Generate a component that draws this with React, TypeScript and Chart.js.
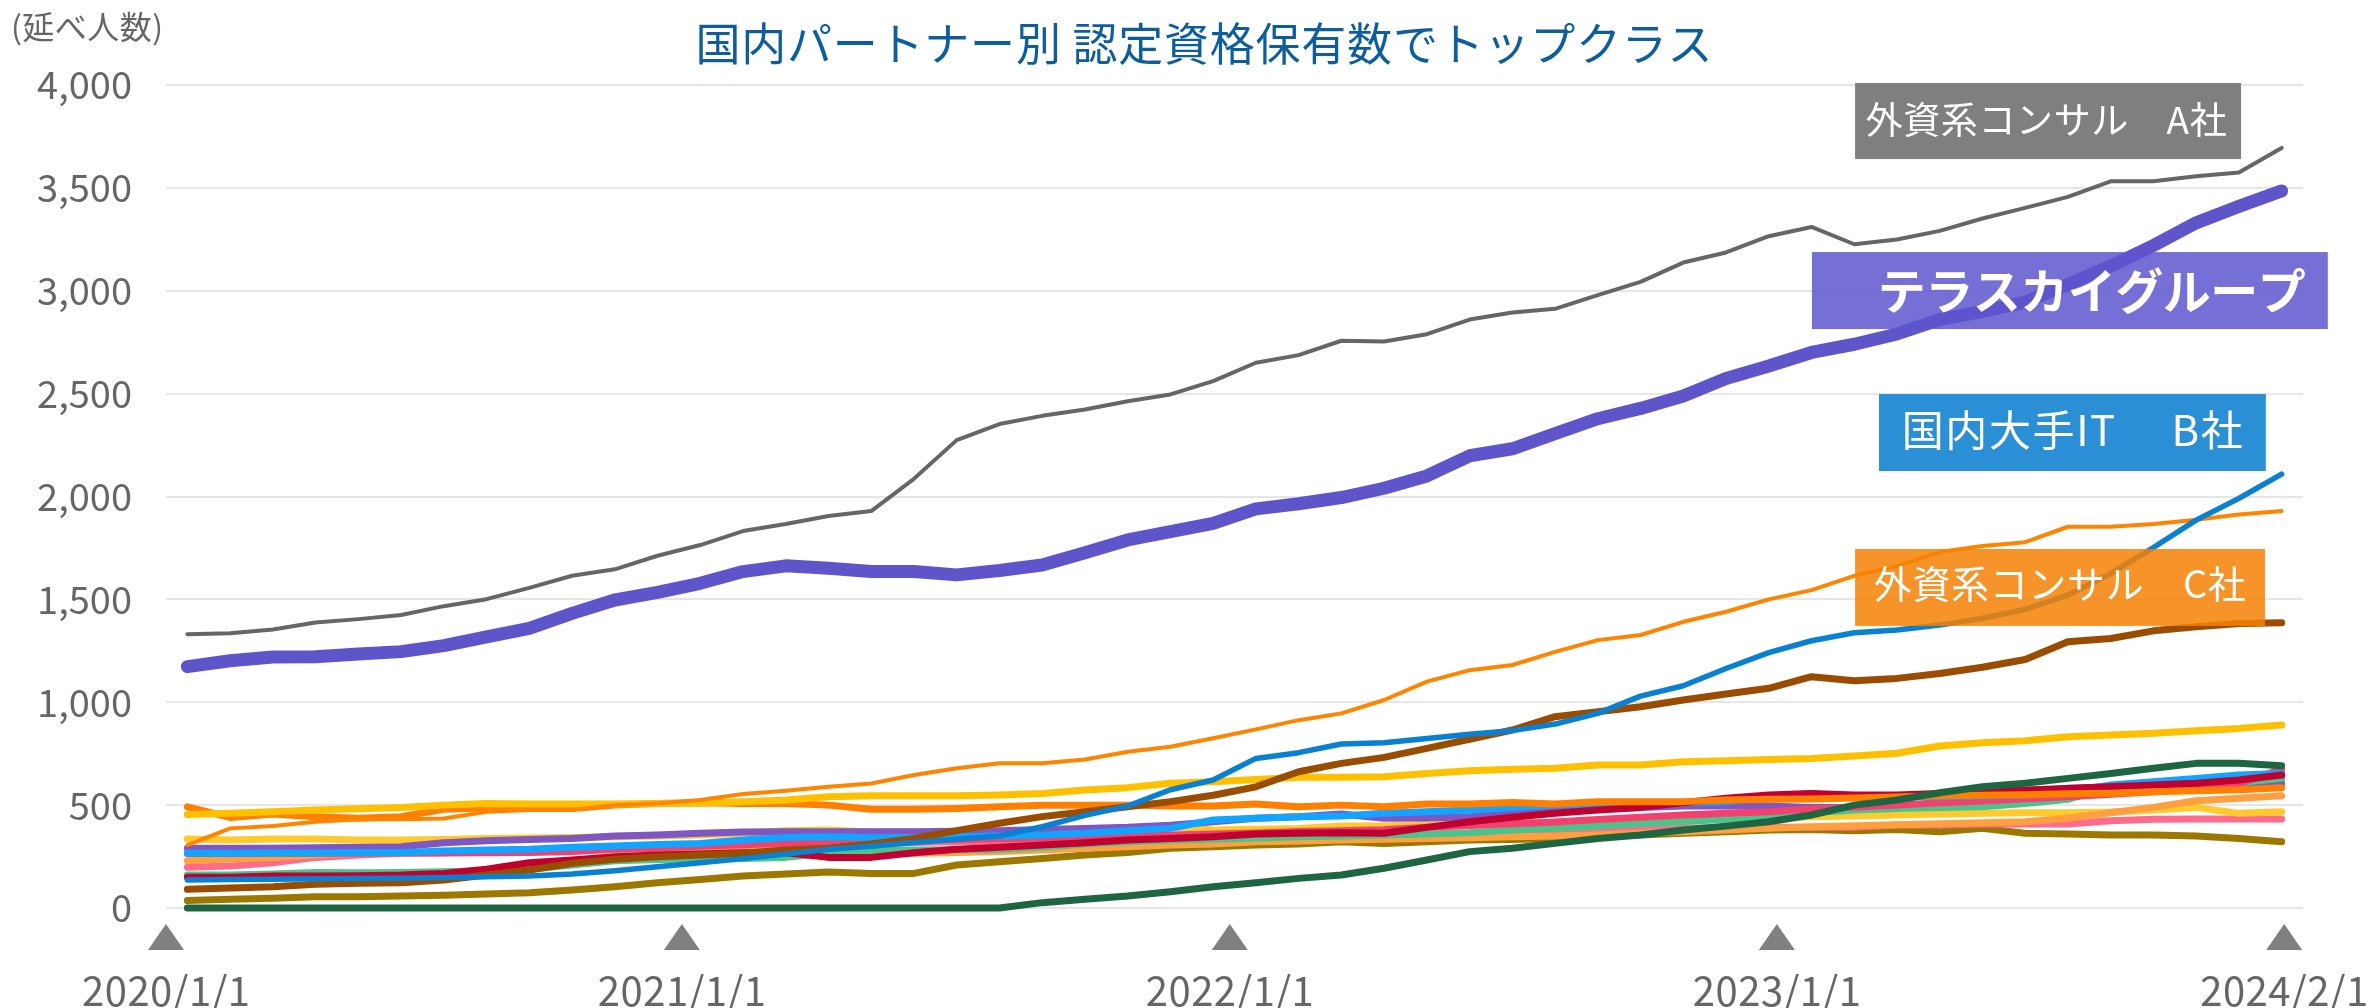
import { useEffect, useRef } from 'react';
import { Chart, registerables } from 'chart.js';

Chart.register(...registerables);

const W = 2374;
const H = 1008;
const FONT = "'Noto Sans CJK JP', 'Noto Sans', sans-serif";

// Monthly points, 2020/1 .. 2024/2 (50 months)
const MONTHS = Array.from({ length: 50 }, (_, i) => `${2020 + Math.floor(i / 12)}/${(i % 12) + 1}`);

const TERRASKY = [
  1173, 1202, 1220, 1221, 1234, 1246, 1275, 1318, 1359, 1432, 1497, 1534, 1578,
  1635, 1663, 1651, 1635, 1635, 1619, 1640, 1667, 1727, 1789, 1829, 1869, 1940,
  1965, 1995, 2040, 2100, 2198, 2232, 2306, 2378, 2428, 2488, 2574, 2634,
  2700, 2740, 2790, 2860, 2900, 2945, 3030, 3120, 3220, 3330, 3410, 3485,
];
const CONSUL_A = [
  1331, 1335, 1354, 1388, 1404, 1424, 1467, 1501, 1556, 1615, 1646, 1712, 1764,
  1832, 1866, 1905, 1929, 2086, 2274, 2352, 2392, 2423, 2463, 2496, 2561, 2650,
  2687, 2757, 2753, 2789, 2860, 2894, 2912, 2979, 3043, 3137, 3186, 3265,
  3310, 3226, 3249, 3291, 3351, 3403, 3456, 3532, 3532, 3557, 3575, 3694,
];
const DOMESTIC_IT_B = [
  136, 138, 140, 142, 143, 144, 148, 152, 155, 165, 181, 201, 220,
  240, 262, 285, 300, 318, 334, 350, 395, 450, 495, 575, 622, 727,
  755, 797, 803, 824, 845, 862, 894, 946, 1030, 1080, 1164, 1241,
  1299, 1338, 1351, 1375, 1408, 1451, 1521, 1626, 1752, 1885, 1991, 2109,
];
const CONSUL_C = [
  306, 387, 398, 419, 431, 431, 435, 468, 476, 478, 500, 508, 525,
  554, 570, 589, 605, 646, 679, 703, 703, 722, 759, 784, 825, 868,
  913, 946, 1011, 1100, 1156, 1181, 1245, 1302, 1327, 1391, 1440, 1500,
  1545, 1614, 1663, 1730, 1759, 1778, 1853, 1853, 1866, 1887, 1913, 1929,
];
const BROWN = [
  91, 97, 103, 115, 120, 123, 136, 160, 185, 217, 237, 249, 258,
  266, 282, 290, 311, 338, 376, 412, 444, 468, 492, 517, 548, 589,
  662, 703, 732, 776, 820, 865, 930, 954, 978, 1011, 1040, 1068,
  1124, 1104, 1116, 1140, 1170, 1208, 1294, 1310, 1347, 1367, 1383, 1386,
];
const GOLD = [
  455, 461, 468, 476, 482, 489, 500, 508, 505, 506, 506, 508, 510,
  517, 525, 541, 545, 545, 545, 549, 557, 573, 585, 606, 614, 625,
  635, 635, 638, 654, 667, 674, 679, 695, 695, 711, 716, 722,
  727, 739, 752, 787, 803, 813, 832, 841, 849, 862, 873, 889,
];
const ORANGE = [
  492, 440, 457, 444, 436, 444, 480, 487, 484, 484, 500, 508, 511,
  508, 508, 500, 480, 480, 484, 492, 499, 499, 500, 496, 496, 505,
  492, 500, 492, 505, 505, 513, 505, 517, 517, 517, 525, 528,
  530, 535, 540, 545, 548, 550, 555, 558, 565, 570, 575, 585,
];
const LIGHT_YELLOW = [
  335, 330, 335, 335, 330, 330, 333, 338, 340, 343, 346, 350, 355,
  363, 376, 379, 368, 368, 370, 371, 376, 379, 387, 392, 379, 383,
  387, 398, 398, 408, 408, 411, 414, 419, 419, 428, 431, 436,
  444, 447, 452, 457, 460, 463, 463, 466, 476, 489, 460, 468,
];
const VIOLET = [
  290, 290, 291, 293, 295, 298, 317, 327, 333, 338, 350, 355, 363,
  369, 370, 371, 371, 371, 373, 376, 382, 387, 392, 402, 419, 436,
  444, 457, 436, 437, 444, 460, 473, 480, 489, 496, 496, 496,
  489, 490, 496, 505, 512, 565, 582, 589, 593, 598, 598, 606,
];
const LIGHT_BLUE = [
  266, 266, 267, 267, 270, 270, 277, 282, 285, 295, 301, 309, 314,
  330, 343, 346, 343, 343, 346, 350, 355, 363, 376, 387, 428, 436,
  444, 447, 460, 468, 476, 489, 500, 505, 508, 512, 517, 544,
  554, 544, 541, 541, 544, 549, 565, 598, 614, 630, 646, 654,
];
const CRIMSON = [
  149, 150, 155, 156, 157, 160, 168, 188, 220, 233, 249, 258, 262,
  269, 269, 246, 246, 269, 285, 295, 306, 317, 330, 338, 346, 360,
  363, 366, 363, 392, 419, 441, 460, 476, 489, 512, 533, 549,
  557, 549, 549, 557, 565, 573, 581, 589, 598, 606, 622, 646,
];
const HOT_PINK = [
  265, 265, 266, 266, 266, 267, 267, 268, 270, 275, 285, 292, 300,
  308, 315, 320, 325, 330, 333, 336, 340, 345, 350, 355, 360, 365,
  372, 375, 380, 392, 401, 410, 418, 430, 441, 452, 460, 468,
  482, 490, 500, 512, 520, 531, 541, 553, 565, 585, 606, 674,
];
const SALMON_PINK = [
  198, 204, 220, 246, 258, 266, 268, 274, 278, 282, 288, 292, 296,
  300, 305, 310, 312, 318, 322, 326, 330, 334, 340, 346, 355, 358,
  362, 371, 355, 355, 363, 371, 376, 379, 382, 387, 392, 392,
  392, 392, 403, 403, 408, 408, 408, 424, 431, 432, 432, 432,
];
const LIGHT_ORANGE = [
  230, 238, 246, 258, 266, 269, 270, 274, 278, 282, 285, 290, 291,
  291, 290, 290, 266, 266, 270, 274, 282, 290, 298, 306, 311, 322,
  326, 330, 334, 338, 342, 346, 350, 355, 363, 371, 379, 387,
  395, 400, 405, 410, 414, 419, 436, 463, 489, 521, 533, 546,
];
const GREEN = [
  160, 160, 165, 172, 171, 172, 176, 181, 188, 209, 230, 236, 238,
  241, 246, 266, 278, 282, 283, 285, 295, 311, 322, 330, 334, 340,
  346, 350, 355, 360, 366, 379, 387, 398, 411, 419, 431, 441,
  463, 476, 484, 489, 492, 508, 528, 589, 598, 603, 609, 630,
];
const OLIVE = [
  36, 42, 47, 55, 55, 58, 62, 68, 74, 87, 103, 123, 139,
  155, 165, 175, 168, 168, 209, 225, 241, 258, 270, 290, 298, 306,
  311, 322, 314, 322, 330, 333, 338, 346, 355, 363, 371, 379,
  382, 376, 382, 371, 387, 363, 360, 355, 355, 350, 338, 322,
];
const DARK_GREEN = [
  0, 0, 0, 0, 0, 0, 0, 0, 0, 0, 0, 0, 0,
  0, 0, 0, 0, 0, 0, 0, 26, 42, 58, 79, 103, 123,
  144, 160, 193, 233, 274, 290, 314, 338, 355, 379, 398, 419,
  452, 500, 525, 560, 589, 606, 630, 654, 679, 703, 703, 691,
];

const Y_TICKS = [0, 500, 1000, 1500, 2000, 2500, 3000, 3500, 4000];
const X_MARK_LABELS = ['2020/1/1', '2021/1/1', '2022/1/1', '2023/1/1', '2024/2/1'];
const X_MARK_POS = [-0.5, 11.57, 24.39, 37.19, 49.06];

const TITLE = '国内パートナー別 認定資格保有数でトップクラス';
const UNIT = '(延べ人数)';

// name, data, colour, width (first drawn on top)
const SERIES = [
  { name: 'テラスカイグループ', data: TERRASKY, color: '#5F55CB', width: 13 },
  { name: '外資系コンサル A社', data: CONSUL_A, color: '#666666', width: 4 },
  { name: '国内大手IT B社', data: DOMESTIC_IT_B, color: '#0A80D2', width: 5.5 },
  { name: '外資系コンサル C社', data: CONSUL_C, color: '#FF8400', width: 4 },
  { name: 'D', data: BROWN, color: '#9A4C00', width: 7 },
  { name: 'E', data: DARK_GREEN, color: '#1E6542', width: 7 },
  { name: 'F', data: GOLD, color: '#FFC000', width: 7 },
  { name: 'G', data: ORANGE, color: '#FF8000', width: 7 },
  { name: 'H', data: CRIMSON, color: '#C0002E', width: 7 },
  { name: 'I', data: LIGHT_BLUE, color: '#12A4FF', width: 7 },
  { name: 'J', data: HOT_PINK, color: '#F2416E', width: 7 },
  { name: 'K', data: GREEN, color: '#4CC38A', width: 7 },
  { name: 'L', data: VIOLET, color: '#7E57C2', width: 7 },
  { name: 'M', data: LIGHT_ORANGE, color: '#FFA040', width: 7 },
  { name: 'N', data: LIGHT_YELLOW, color: '#FFCA2C', width: 7 },
  { name: 'O', data: SALMON_PINK, color: '#FF6B8B', width: 7 },
  { name: 'P', data: OLIVE, color: '#9C7800', width: 7 },
];

// Callout boxes, in data units (month index / count)
const CALLOUTS = [
  { text: '外資系コンサル　A社', x0: 39.02, x1: 48.05, yTop: 4010, yBot: 3640, tx: 43.49, ty: 3830, tw: 361, size: 37, bold: false, fill: 'rgba(127,127,127,1)' },
  { text: 'テラスカイグループ', x0: 38.01, x1: 50.08, yTop: 3188, yBot: 2814, tx: 44.56, ty: 2999, tw: 428, size: 48, bold: true, fill: 'rgba(94,86,207,0.85)' },
  { text: '国内大手IT　 B社', x0: 39.58, x1: 48.63, yTop: 2498, yBot: 2124, tx: 44.1, ty: 2323, tw: 341, size: 42, bold: false, fill: 'rgba(42,143,212,1)' },
  { text: '外資系コンサル　C社', x0: 39.02, x1: 48.61, yTop: 1745, yBot: 1371, tx: 43.81, ty: 1575, tw: 372, size: 38, bold: false, fill: 'rgba(246,129,3,0.85)' },
];

function drawFit(ctx: CanvasRenderingContext2D, text: string, cx: number, cy: number, font: string, color: string, targetW?: number) {
  ctx.font = font;
  (ctx as any).letterSpacing = '0px';
  const n = Array.from(text).length;
  const w0 = ctx.measureText(text).width;
  const ls = targetW ? (targetW - w0) / Math.max(1, n - 1) : 0;
  (ctx as any).letterSpacing = `${ls}px`;
  ctx.fillStyle = color;
  ctx.textAlign = 'left';
  ctx.textBaseline = 'middle';
  const total = w0 + ls * (n - 1);
  ctx.fillText(text, cx - total / 2, cy);
  (ctx as any).letterSpacing = '0px';
}

const overlayPlugin = {
  id: 'overlay',
  afterDraw(chart: any) {
    const { ctx, chartArea } = chart;
    const xs = chart.scales.x;
    const ys = chart.scales.y;
    ctx.save();
    // unit + title
    drawFit(ctx, UNIT, 87, 27, `400 32px ${FONT}`, '#666666', 152);
    drawFit(ctx, TITLE, 1204, 44, `400 45px ${FONT}`, '#0E5E9E', 1017);

    // date markers
    X_MARK_POS.forEach((p, i) => {
      const px = xs.getPixelForValue(p);
      const top = chartArea.bottom + 16;
      ctx.beginPath();
      ctx.moveTo(px, top);
      ctx.lineTo(px + 18, top + 26);
      ctx.lineTo(px - 18, top + 26);
      ctx.closePath();
      ctx.fillStyle = '#808080';
      ctx.fill();
      drawFit(ctx, X_MARK_LABELS[i], px, chartArea.bottom + 83, `400 40px ${FONT}`, '#666666', 168);
    });

    // callouts
    CALLOUTS.forEach((c) => {
      const l = xs.getPixelForValue(c.x0);
      const r = xs.getPixelForValue(c.x1);
      const t = ys.getPixelForValue(c.yTop);
      const b = ys.getPixelForValue(c.yBot);
      ctx.fillStyle = c.fill;
      ctx.fillRect(l, t, r - l, b - t);
      drawFit(ctx, c.text, xs.getPixelForValue(c.tx), ys.getPixelForValue(c.ty), `${c.bold ? 700 : 400} ${c.size}px ${FONT}`, '#FFFFFF', c.tw);
    });
    ctx.restore();
  },
};

export default function App() {
  const ref = useRef<HTMLCanvasElement | null>(null);
  useEffect(() => {
    if (!ref.current) return;
    const chart = new Chart(ref.current, {
      type: 'line',
      data: {
        labels: MONTHS,
        datasets: SERIES.map((s) => ({
          label: s.name,
          data: s.data.map((v, i) => ({ x: i, y: v })),
          borderColor: s.color,
          backgroundColor: s.color,
          borderWidth: s.width,
          pointRadius: 0,
          tension: 0,
          fill: false,
          borderCapStyle: 'round' as const,
          borderJoinStyle: 'round' as const,
          clip: 20,
        })),
      },
      options: {
        animation: false,
        responsive: false,
        devicePixelRatio: 1,
        layout: { padding: { left: 0, right: 71, top: 85, bottom: 100 } },
        plugins: { legend: { display: false }, tooltip: { enabled: false }, title: { display: false } },
        scales: {
          x: { type: 'linear', min: -0.5, max: 49.5, display: false },
          y: {
            min: 0,
            max: 4000,
            afterFit: (scale: any) => { scale.width = 166; },
            afterBuildTicks: (scale: any) => { scale.ticks = Y_TICKS.map((v) => ({ value: v })); },
            ticks: {
              padding: 34,
              color: '#666666',
              font: { family: FONT, size: 38 },
              callback: (v: any) => Number(v).toLocaleString('en-US'),
            },
            grid: { color: '#E6E6E6', lineWidth: 2, drawTicks: false },
            border: { display: false },
          },
        },
      },
      plugins: [overlayPlugin],
    });
    return () => chart.destroy();
  }, []);
  return (
    <div style={{ position: 'absolute', left: 0, top: 0, width: W, height: H, background: '#fff' }}>
      <canvas ref={ref} width={W} height={H} style={{ display: 'block', width: W, height: H }} />
    </div>
  );
}
